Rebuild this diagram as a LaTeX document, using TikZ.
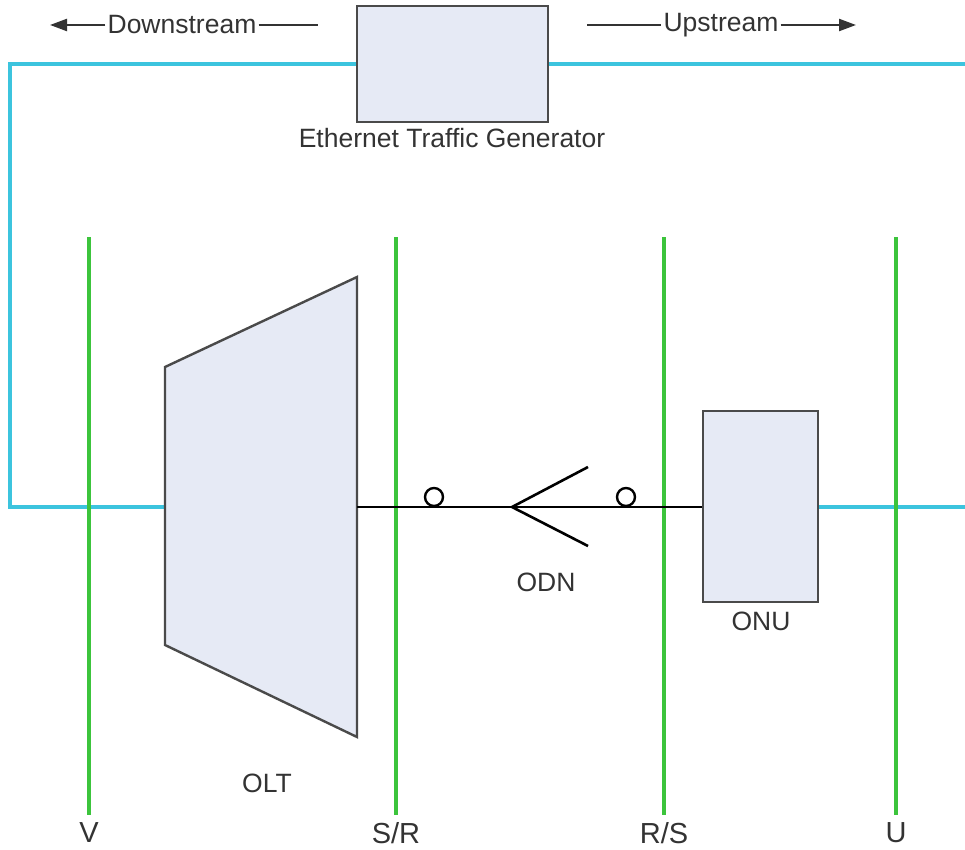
\documentclass[tikz,border=0pt]{standalone}
\usepackage{fontspec}
\setmainfont{Liberation Sans}
\usetikzlibrary{arrows.meta}
\definecolor{cyanl}{HTML}{3CC4DE}
\definecolor{greenl}{HTML}{3CC43C}
\definecolor{boxfill}{HTML}{E6EAF5}
\definecolor{boxdraw}{HTML}{4A4A4A}
\definecolor{txt}{HTML}{333333}
\tikzset{
  cyanline/.style={draw=cyanl, line width=3.4pt},
  refline/.style={draw=greenl, line width=3.2pt},
  fiber/.style={draw=black, line width=2.6pt},
  devbox/.style={draw=boxdraw, fill=boxfill, line width=2.4pt, inner sep=0pt},
  lbl/.style={text=txt, font=\fontsize{26.5}{31}\selectfont, inner sep=0pt},
  biglbl/.style={text=txt, font=\fontsize{29}{34}\selectfont, inner sep=0pt},
  dirline/.style={draw=txt, line width=2.2pt},
  dirarrow/.style={dirline, -{Triangle[length=17pt,width=12pt]}},
}
\begin{document}
\begin{tikzpicture}[x=1pt, y=-1pt]
\useasboundingbox (0,0) rectangle (965,850);

% reference points
\coordinate (v top) at (89,237);   \coordinate (v bot) at (89,815);
\coordinate (sr top) at (396,237); \coordinate (sr bot) at (396,815);
\coordinate (rs top) at (664,237); \coordinate (rs bot) at (664,815);
\coordinate (u top) at (896,237);  \coordinate (u bot) at (896,815);
\node[biglbl] (v lab) at (89,833) {V};
\node[biglbl] (sr lab) at (396,833) {S/R};
\node[biglbl] (rs lab) at (664,833) {R/S};
\node[biglbl] (u lab) at (896,833) {U};

% Ethernet traffic generator
\node[devbox, minimum width=191pt, minimum height=116pt] (etg) at (452.5,64) {};
\node[lbl] (etglab) at (452,138) {Ethernet Traffic Generator};

% direction labels
\node[lbl] (ds) at (182,25) {Downstream};
\coordinate (dsend) at (50,25);
\coordinate (dsright) at (318,25);
\node[lbl] (us) at (721,25) {Upstream};
\coordinate (usstart) at (587,25);
\coordinate (usend) at (856,25);
\draw[dirarrow] ([xshift=-2pt]ds.west) -- (dsend);
\draw[dirline] ([xshift=2pt]ds.east) -- (dsright);
\draw[dirline] (usstart) -- ([xshift=-2pt]us.west);
\draw[dirarrow] ([xshift=2pt]us.east) -- (usend);

% OLT
\coordinate (oltTL) at (165,367);
\coordinate (oltTR) at (357,277);
\coordinate (oltBR) at (357,737);
\coordinate (oltBL) at (165,645);
\coordinate (oltL) at (165,507);
\coordinate (oltR) at (357,507);
\node[lbl] (oltlab) at (267,783) {OLT};

% ONU
\node[devbox, minimum width=115pt, minimum height=191pt] (onu) at (760.5,506.5) {};
\node[lbl] (onulab) at (761,621) {ONU};

% cyan connections
\coordinate (cornerTL) at (10,64);
\coordinate (cornerBL) at (10,507);
\coordinate (rightend) at (965,64);
\coordinate (onuend) at (965,507);
\draw[cyanline] (etg.west) -- (cornerTL) -- (cornerBL) -- (oltL);
\draw[cyanline] (etg.east) -- (rightend);
\draw[cyanline] (onu.east |- onuend) -- (onuend);

% green reference lines
\foreach \n in {v, sr, rs, u}{
  \draw[refline] (\n\space top) -- (\n\space bot);
}

% OLT shape on top
\draw[devbox, line join=miter] (oltTL) -- (oltTR) -- (oltBR) -- (oltBL) -- cycle;

% ODN
\coordinate (split) at (512,507);
\coordinate (splitU) at (588,467);
\coordinate (splitD) at (588,546);
\draw[fiber] (oltR) -- (onu.west |- oltR);
\draw[fiber] (splitU) -- (split) -- (splitD);
\node[draw=black, line width=2.4pt, circle, minimum size=18pt, inner sep=0pt] (c1) at (434,497) {};
\node[draw=black, line width=2.4pt, circle, minimum size=18pt, inner sep=0pt] (c2) at (626,497) {};
\node[lbl] (odnlab) at (546,582) {ODN};
\end{tikzpicture}
\end{document}
